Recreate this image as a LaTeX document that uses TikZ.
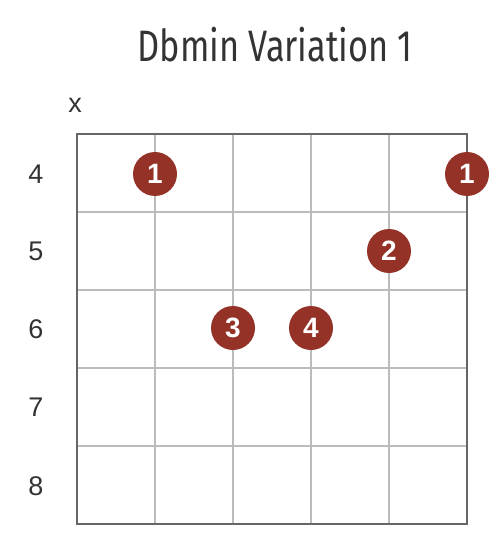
\documentclass[tikz,border=0pt]{standalone}
\usepackage{fontspec}
\setmainfont{Liberation Sans}
\newfontfamily\titlefont{Fira Sans}
\definecolor{dotred}{HTML}{943228}
\definecolor{gridgray}{HTML}{BBBBBB}
\definecolor{framegray}{HTML}{666666}
\definecolor{txt}{HTML}{333333}
\begin{document}
\begin{tikzpicture}[x=1pt,y=-1pt,
  fingerdot/.style={circle,fill=dotred,minimum size=44pt,inner sep=0pt,text=white,font=\fontsize{28}{30}\selectfont\bfseries},
  fretlabel/.style={text=txt,font=\fontsize{27}{30}\selectfont,inner sep=0pt},
  gridline/.style={gridgray,line width=2pt},
  frameline/.style={framegray,line width=2pt}]
\useasboundingbox (0,0) rectangle (500,540);
\node[text=txt,font=\titlefont\fontsize{44}{48}\selectfont,xscale=0.78] (title) at (275,45) {Dbmin Variation 1};
% grid
\foreach \c in {155,233,311,389} \draw[gridline] (\c,134) -- (\c,524);
\foreach \r in {212,290,368,446} \draw[gridline] (77,\r) -- (467,\r);
\draw[frameline] (77,134) rectangle (467,524);
% labels
\node[fretlabel] (mute) at (75,105) {x};
\node[fretlabel] (f4) at (36,174) {4};
\node[fretlabel] (f5) at (36,251) {5};
\node[fretlabel] (f6) at (36,329) {6};
\node[fretlabel] (f7) at (36,407) {7};
\node[fretlabel] (f8) at (36,486) {8};
% dots
\node[fingerdot] (d1a) at (155,174) {1};
\node[fingerdot] (d1b) at (467,174) {1};
\node[fingerdot] (d2) at (389,251) {2};
\node[fingerdot] (d3) at (233,328) {3};
\node[fingerdot] (d4) at (311,328) {4};
\end{tikzpicture}
\end{document}
